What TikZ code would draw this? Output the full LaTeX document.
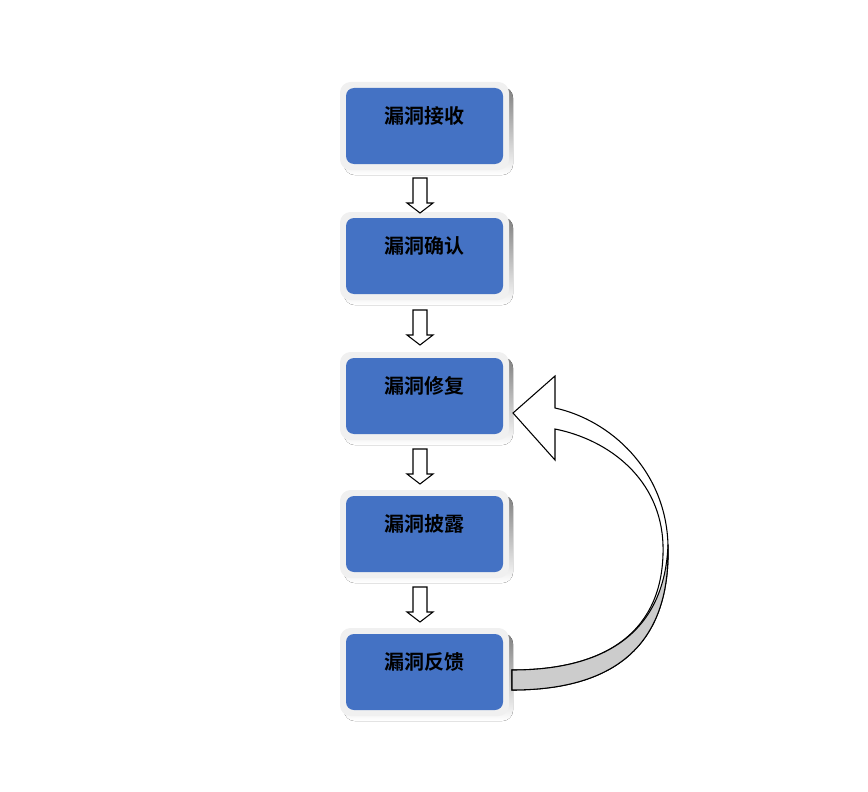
\documentclass[tikz,border=0pt]{standalone}
\usepackage{fontspec}
\newfontfamily\cjk{Noto Sans CJK SC Bold}
\begin{document}
\begin{tikzpicture}[x=0.75pt,y=-0.75pt,
  stepbox/.style={draw=none,fill=white},
  lbl/.style={font=\cjk\fontsize{15}{18}\selectfont,text=black,inner sep=0},
  darr/.style={draw=black,fill=white,line width=0.8pt}]
\useasboundingbox (0,0) rectangle (868,792);
\definecolor{boxblue}{HTML}{4472C4}
\definecolor{shade}{HTML}{8E99B0}
\definecolor{rim}{HTML}{F0F0F0}
\foreach \n/\y/\t in {a/82/漏洞接收,b/212/漏洞确认,c/352/漏洞修复,d/490/漏洞披露,e/628/漏洞反馈}{
  \fill[shade,rounded corners=8] (344,\y+5) rectangle (513,\y+93);
  \fill[rim,rounded corners=8] (340,\y) rectangle (509,\y+88);
  \fill[boxblue,rounded corners=6] (346,\y+6) rectangle (503,\y+82);
  \coordinate (\n) at (424,\y+44);
  \node[lbl] (t\n) at (424,\y+34) {\t};
}
\foreach \y in {178,310,449,587}{
  \draw[darr] (413,\y) -- (427,\y) -- (427,\y+25) -- (433,\y+25) -- (420,\y+35) -- (407,\y+25) -- (413,\y+25) -- cycle;
}
% curved feedback arrow
\draw[fill=white,line width=0.8pt] (512,690) .. controls (640,690) and (670,620) .. (668,545)
  .. controls (666,470) and (610,420) .. (555,408) -- (555,376) -- (513,413) -- (555,460) -- (555,429)
  .. controls (610,440) and (661,480) .. (663,545)
  .. controls (665,620) and (620,670) .. (512,670) -- cycle;
\draw[fill=black!20,line width=0.8pt] (512,690) .. controls (640,690) and (670,620) .. (668,545)
  .. controls (665,620) and (620,670) .. (512,670) -- cycle;
\end{tikzpicture}
\end{document}
